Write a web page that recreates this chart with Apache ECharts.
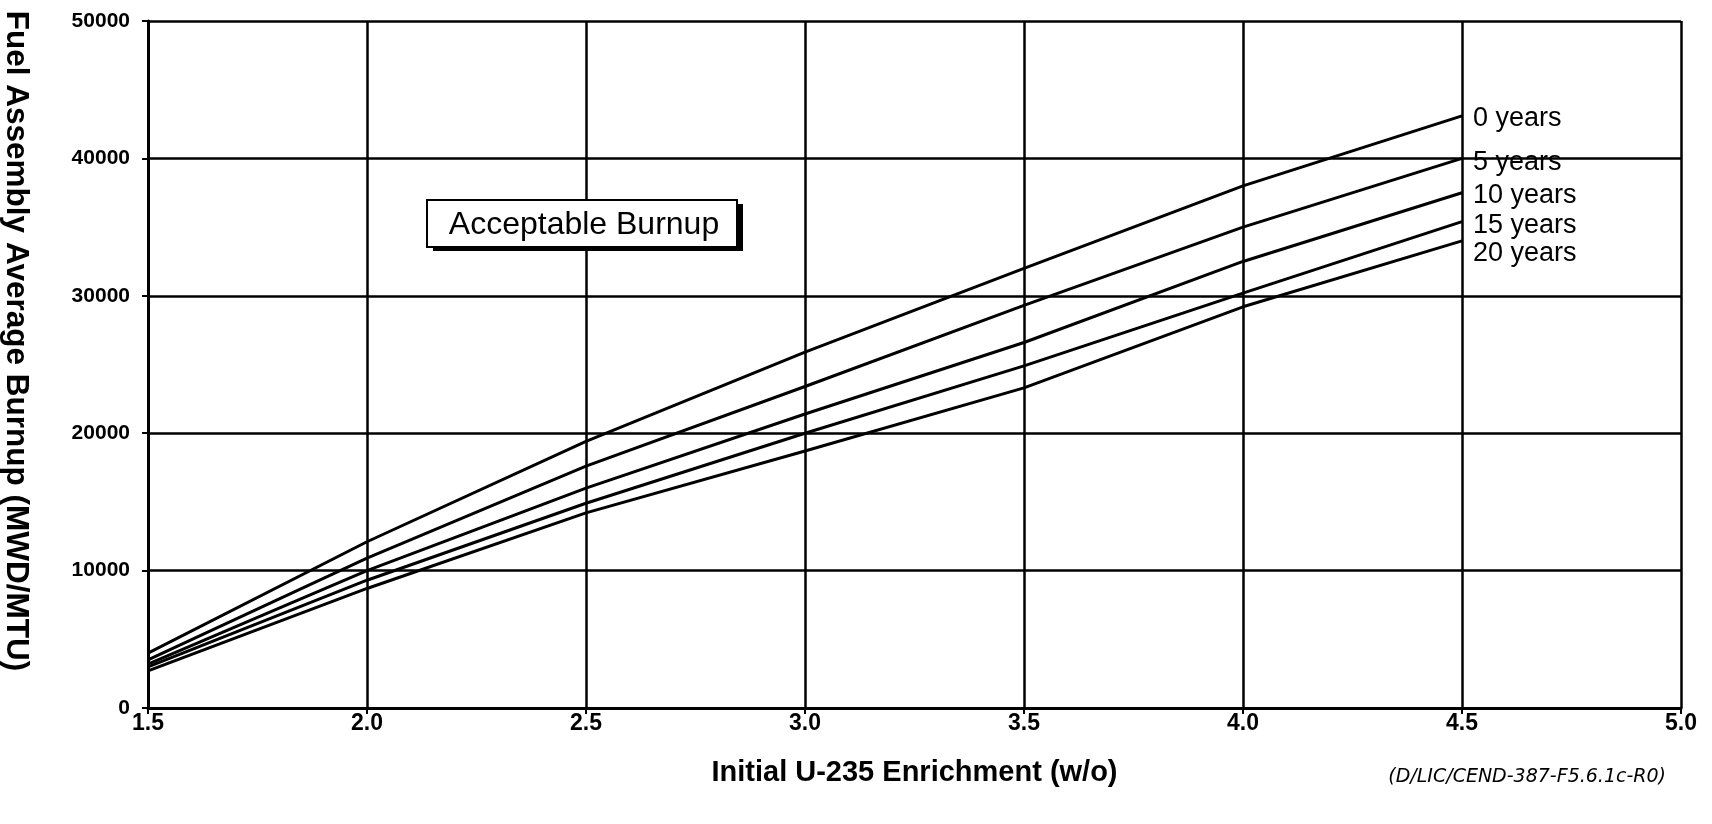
<!DOCTYPE html>
<html>
<head>
<meta charset="utf-8">
<script src="https://cdn.jsdelivr.net/npm/echarts@6/dist/echarts.min.js"></script>
<style>
html,body{margin:0;padding:0;background:#fff;}
#chart{width:1712px;height:824px;}
</style>
</head>
<body>
<div id="chart"></div>
<script>
// Data
const enrichment = [1.5, 2.0, 2.5, 3.0, 3.5, 4.0, 4.5];
const seriesNames = ['0 years', '5 years', '10 years', '15 years', '20 years'];
const burnup0  = [4000, 12100, 19400, 25900, 32000, 38000, 43100];
const burnup5  = [3500, 10900, 17600, 23400, 29300, 35000, 40000];
const burnup10 = [3200, 10000, 16000, 21400, 26600, 32500, 37500];
const burnup15 = [3000,  9300, 14900, 20000, 24900, 30200, 35400];
const burnup20 = [2700,  8700, 14200, 18700, 23300, 29200, 34000];
const xTicks = [1.5, 2.0, 2.5, 3.0, 3.5, 4.0, 4.5, 5.0];
const yTicks = [0, 10000, 20000, 30000, 40000, 50000];

const allValues = [burnup0, burnup5, burnup10, burnup15, burnup20];
const labelDy = [3, 4, 3, 4, 13];

const chart = echarts.init(document.getElementById('chart'), null, {renderer: 'canvas'});
const FONT = '"Liberation Sans", Arial, Helvetica, sans-serif';

const series = allValues.map((vals, i) => ({
  name: seriesNames[i],
  type: 'line',
  data: enrichment.map((x, j) => [x, vals[j]]),
  symbol: 'none',
  lineStyle: {color: '#000', width: 3},
  itemStyle: {color: '#000'},
  z: 5,
  emphasis: {disabled: true},
  endLabel: {
    show: true,
    formatter: '{a}',
    color: '#000',
    fontFamily: FONT,
    fontSize: 27,
    distance: 11,
    offset: [0, labelDy[i]]
  }
}));

chart.setOption({
  animation: false,
  backgroundColor: '#fff',
  grid: {left: 148, right: 31, top: 21, bottom: 116, containLabel: false, outerBoundsMode: 'none'},
  xAxis: {
    type: 'value',
    min: xTicks[0], max: xTicks[xTicks.length - 1], interval: 0.5,
    name: 'Initial U-235 Enrichment (w/o)',
    nameLocation: 'middle',
    nameGap: 50,
    nameTextStyle: {fontFamily: FONT, fontSize: 29, fontWeight: 'bold', color: '#000'},
    axisLine: {show: true, lineStyle: {color: '#000', width: 3}},
    axisTick: {show: true, length: 6, lineStyle: {color: '#000', width: 2}},
    axisLabel: {
      fontFamily: FONT, fontSize: 23, fontWeight: 'bold', color: '#000', margin: 4,
      formatter: v => v.toFixed(1)
    },
    splitLine: {show: true, lineStyle: {color: '#000', width: 2.5}}
  },
  yAxis: {
    type: 'value',
    min: yTicks[0], max: yTicks[yTicks.length - 1], interval: 10000,
    axisLine: {show: true, lineStyle: {color: '#000', width: 3}},
    axisTick: {show: true, length: 6, lineStyle: {color: '#000', width: 2}},
    axisLabel: {
      fontFamily: FONT, fontSize: 21, fontWeight: 'bold', color: '#000', margin: 18,
      formatter: v => String(v)
    },
    splitLine: {show: true, lineStyle: {color: '#000', width: 2.5}}
  },
  graphic: [
    {
      type: 'text',
      x: 16, y: 341,
      rotation: -Math.PI / 2,
      style: {
        text: 'Fuel Assembly Average Burnup (MWD/MTU)',
        fontFamily: FONT, fontSize: 31.5, fontWeight: 'bold', fill: '#000',
        align: 'center', verticalAlign: 'middle'
      }
    },
    {
      type: 'rect',
      shape: {x: 433, y: 204, width: 310, height: 47},
      style: {fill: '#000'},
      z: 10
    },
    {
      type: 'rect',
      shape: {x: 427, y: 200, width: 310, height: 47},
      style: {fill: '#fff', stroke: '#000', lineWidth: 2},
      z: 11
    },
    {
      type: 'text',
      x: 584, y: 225,
      style: {
        text: 'Acceptable Burnup',
        fontFamily: FONT, fontSize: 32, fill: '#000',
        align: 'center', verticalAlign: 'middle'
      },
      z: 12
    },
    {
      type: 'text',
      x: 1666, y: 777,
      style: {
        text: '(D/LIC/CEND-387-F5.6.1c-R0)',
        fontFamily: '"DejaVu Sans", sans-serif', fontSize: 19, fontStyle: 'italic', fill: '#000',
        align: 'right', verticalAlign: 'middle'
      }
    }
  ],
  series: series
});
</script>
</body>
</html>
